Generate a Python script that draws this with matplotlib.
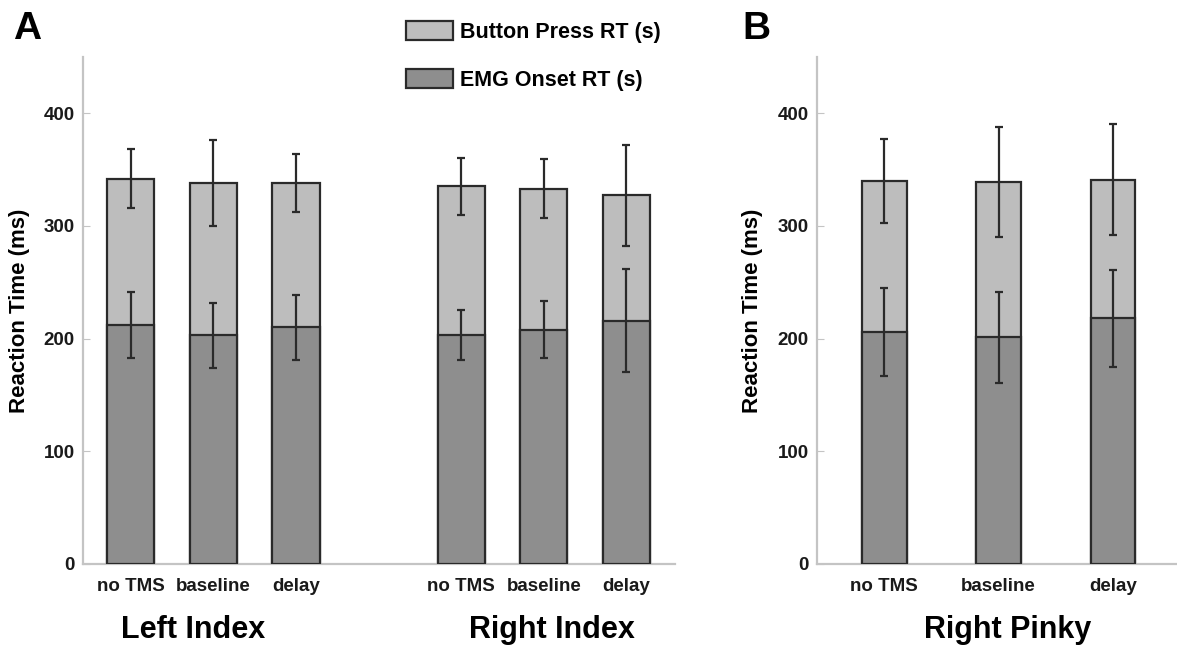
import numpy as np
import matplotlib.pyplot as plt
from matplotlib.patches import Patch
from matplotlib.transforms import blended_transform_factory

plt.rcParams['font.family'] = ['Liberation Sans', 'DejaVu Sans']
plt.rcParams['font.weight'] = 'bold'

conditions = ["no TMS", "baseline", "delay"]

# panel A: left index (first 3) and right index (last 3)
press_A = [342, 338, 338, 335, 333, 327]
press_A_err = [26, 38, 26, 25, 26, 45]
emg_A = [212, 203, 210, 203, 208, 216]
emg_A_err = [29, 29, 29, 22, 25, 46]
pos_A = [1, 2, 3, 5, 6, 7]
groups_A = ["Left Index", "Right Index"]
group_pos_A = [1.75, 6.1]

# panel B: right pinky
press_B = [340, 339, 341]
press_B_err = [37, 49, 49]
emg_B = [206, 201, 218]
emg_B_err = [39, 40, 43]
pos_B = [1, 2, 3]

light = "#bdbdbd"
dark = "#8e8e8e"
edge = "#2a2a2a"
axis_grey = "#c4c4c4"


def draw_panel(ax, pos, press, press_err, emg, emg_err, width):
    ax.bar(pos, press, width, color=light, edgecolor=edge, linewidth=1.6, zorder=2)
    ax.bar(pos, emg, width, color=dark, edgecolor=edge, linewidth=1.6, zorder=3)
    ax.errorbar(pos, press, yerr=press_err, fmt='none', ecolor=edge,
                elinewidth=1.6, capsize=3, capthick=1.6, zorder=4)
    ax.errorbar(pos, emg, yerr=emg_err, fmt='none', ecolor=edge,
                elinewidth=1.6, capsize=3, capthick=1.6, zorder=4)
    ax.set_ylim(0, 450)
    ax.set_yticks([0, 100, 200, 300, 400])
    ax.set_xticks(pos)
    ax.set_xticklabels(conditions * (len(pos) // 3), fontsize=13.5, fontweight='bold')
    for s in ['top', 'right']:
        ax.spines[s].set_visible(False)
    for s in ['left', 'bottom']:
        ax.spines[s].set_color(axis_grey)
        ax.spines[s].set_linewidth(1.6)
    ax.tick_params(axis='y', direction='in', length=5, color=axis_grey,
                   labelsize=13.5, pad=6, labelcolor='#1a1a1a')
    ax.tick_params(axis='x', length=0, pad=10, labelcolor='#1a1a1a')
    ax.set_ylabel("Reaction Time (ms)", fontsize=16, fontweight='bold', labelpad=10)


fig = plt.figure(figsize=(11.77, 6.46), dpi=100)

axA = fig.add_axes([0.0705, 0.127, 0.503, 0.785])
draw_panel(axA, pos_A, press_A, press_A_err, emg_A, emg_A_err, 0.57)
axA.set_xlim(0.42, 7.59)
trA = blended_transform_factory(axA.transData, axA.transAxes)
for name, gx in zip(groups_A, group_pos_A):
    axA.text(gx, -0.13, name, transform=trA, ha='center', va='center',
             fontsize=22, fontweight='bold')

axB = fig.add_axes([0.694, 0.127, 0.306, 0.785])
draw_panel(axB, pos_B, press_B, press_B_err, emg_B, emg_B_err, 0.39)
axB.set_xlim(0.41, 3.56)
trB = blended_transform_factory(axB.transData, axB.transAxes)
axB.text(2.08, -0.13, "Right Pinky", transform=trB, ha='center', va='center',
         fontsize=22, fontweight='bold')

fig.text(0.011, 0.955, "A", fontsize=28, fontweight='bold', va='center')
fig.text(0.631, 0.955, "B", fontsize=28, fontweight='bold', va='center')

handles = [Patch(facecolor=light, edgecolor=edge, linewidth=1.6, label="Button Press RT (s)"),
           Patch(facecolor=dark, edgecolor=edge, linewidth=1.6, label="EMG Onset RT (s)")]
fig.legend(handles=handles, loc='upper left', bbox_to_anchor=(0.345, 0.968),
           frameon=False, handlelength=2.2, handleheight=1.0,
           handletextpad=0.3, labelspacing=1.2, borderpad=0, borderaxespad=0,
           prop={'weight': 'bold', 'size': 15.5})

fig.savefig("out.png", dpi=100)
